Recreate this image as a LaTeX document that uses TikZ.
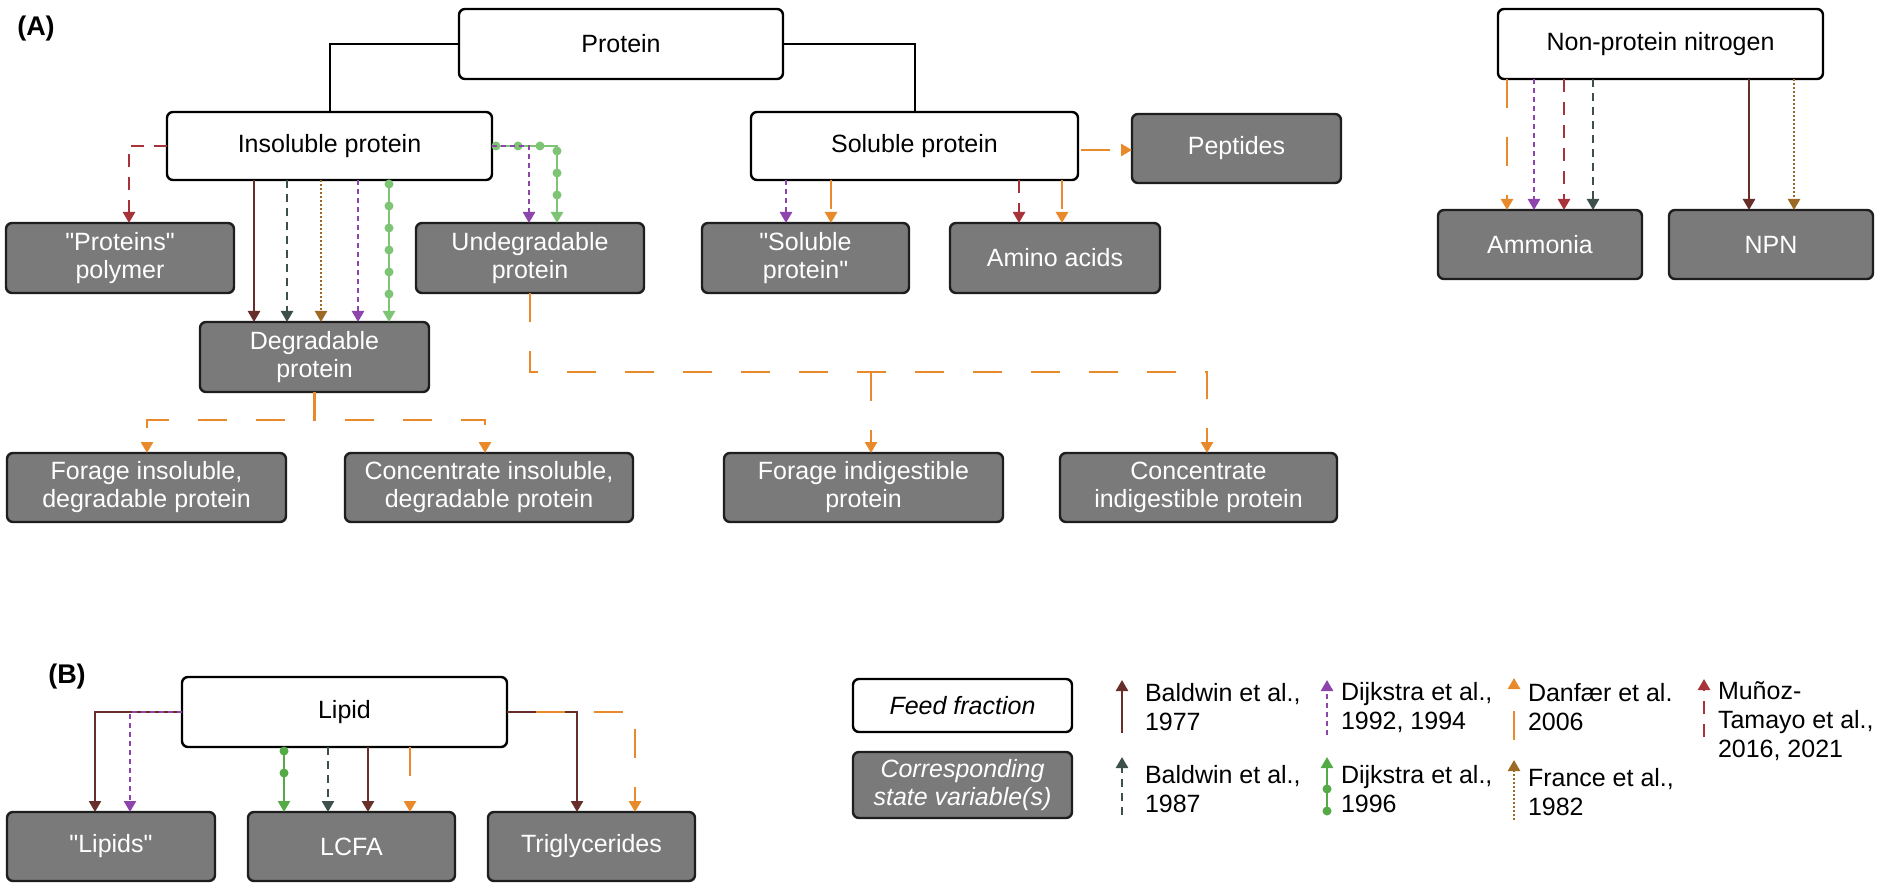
\documentclass[tikz,border=0pt]{standalone}
\usepackage{fontspec}
\setmainfont{Liberation Sans}
\usetikzlibrary{arrows.meta,decorations.markings}
\newcommand\sqt{\XeTeXglyph\XeTeXcharglyph"22\relax}
\definecolor{cBrown}{RGB}{104,46,42}
\definecolor{cSlate}{RGB}{62,80,76}
\definecolor{cPurple}{RGB}{142,68,173}
\definecolor{cGreenA}{RGB}{125,197,116}
\definecolor{cGreenB}{RGB}{84,170,68}
\definecolor{cOrange}{RGB}{232,137,43}
\definecolor{cRed}{RGB}{168,50,58}
\definecolor{cFrance}{RGB}{156,106,37}
\definecolor{cBox}{RGB}{122,122,122}
\definecolor{cBoxLine}{RGB}{30,30,30}
\begin{document}
\begin{tikzpicture}[x=1pt,y=-1pt,
  every node/.style={inner sep=0pt,outer sep=0pt},
  txt/.style={font=\fontsize{25}{28}\selectfont},
  fbox/.style={draw=black,line width=2.4pt,rounded corners=6pt,fill=white,align=center,txt},
  sbox/.style={draw=cBoxLine,line width=2.4pt,rounded corners=6pt,fill=cBox,text=white,align=center,txt},
  legtext/.style={align=left,anchor=west,font=\fontsize{25}{29}\selectfont},
  plainln/.style={draw=black,line width=2pt},
  arr/.style={-{Triangle[width=12pt,length=11pt]}},
  bbrown/.style={draw=cBrown,line width=2.5pt},
  bslate/.style={draw=cSlate,line width=2.5pt,dash pattern=on 8pt off 6pt},
  dpurple/.style={draw=cPurple,line width=2.5pt,dash pattern=on 5pt off 4pt},
  dorange/.style={draw=cOrange,line width=2.6pt,dash pattern=on 29pt off 29pt},
  mred/.style={draw=cRed,line width=2.5pt,dash pattern=on 13pt off 10pt},
  fbrown/.style={draw=cFrance,line width=2.3pt,dash pattern=on 2pt off 2pt},
  dgreen/.style={draw=#1,line width=2.5pt,
    decoration={markings,mark=between positions 4pt and -26pt step 22pt with {\fill[#1] (0,0) circle (4.5pt);}},
    postaction={decorate}},
  dgreen/.default=cGreenA
]
\fill[white] (0,0) rectangle (1884,890);
\useasboundingbox (0,0) rectangle (1884,890);

% ---------- labels
\node[font=\bfseries\fontsize{27}{30}\selectfont] (labA) at (36,29) {(A)};
\node[font=\bfseries\fontsize{27}{30}\selectfont] (labB) at (67,677) {(B)};

% ---------- section A boxes
\node[fbox,minimum width=324pt,minimum height=70pt] (protein) at (621,44) {Protein};
\node[fbox,minimum width=325pt,minimum height=68pt] (insol) at (329.5,146) {Insoluble protein};
\node[fbox,minimum width=327pt,minimum height=68pt] (sol) at (914.5,146) {Soluble protein};
\node[fbox,minimum width=325pt,minimum height=70pt] (npn) at (1660.5,44) {Non-protein nitrogen};
\node[sbox,minimum width=209pt,minimum height=69pt] (peptides) at (1236.5,148.5) {Peptides};
\node[sbox,minimum width=228pt,minimum height=70pt] (polymer) at (120,258) {\sqt Proteins\sqt\\polymer};
\node[sbox,minimum width=228pt,minimum height=70pt] (undeg) at (530,258) {Undegradable\\protein};
\node[sbox,minimum width=207pt,minimum height=70pt] (solstate) at (805.5,258) {\sqt Soluble\\protein\sqt};
\node[sbox,minimum width=210pt,minimum height=70pt] (amino) at (1055,258) {Amino acids};
\node[sbox,minimum width=204pt,minimum height=69pt] (ammonia) at (1540,244.5) {Ammonia};
\node[sbox,minimum width=204pt,minimum height=69pt] (npnbox) at (1771,244.5) {NPN};
\node[sbox,minimum width=229pt,minimum height=70pt] (degr) at (314.5,357) {Degradable\\protein};
\node[sbox,minimum width=279pt,minimum height=69pt] (forins) at (146.5,487.5) {Forage insoluble,\\degradable protein};
\node[sbox,minimum width=288pt,minimum height=69pt] (conins) at (489,487.5) {Concentrate insoluble,\\degradable protein};
\node[sbox,minimum width=279pt,minimum height=69pt] (forind) at (863.5,487.5) {Forage indigestible\\protein};
\node[sbox,minimum width=277pt,minimum height=69pt] (conind) at (1198.5,487.5) {Concentrate\\indigestible protein};

% ---------- section A connectors
\draw[plainln] (protein.west) -| (insol.north);
\draw[plainln] (protein.east) -| (sol.north);

\draw[mred,arr] (insol.west) -| (129,0 |- polymer.north);

\draw[bbrown,arr] (insol.south -| 254,0) -- (degr.north -| 254,0);
\draw[bslate,arr] (insol.south -| 287,0) -- (degr.north -| 287,0);
\draw[fbrown,arr] (insol.south -| 321,0) -- (degr.north -| 321,0);
\draw[dpurple,arr] (insol.south -| 358,0) -- (degr.north -| 358,0);
\draw[dgreen,arr] (insol.south -| 389,0) -- (degr.north -| 389,0);

\draw[dgreen,arr] (insol.east) -| (557,0 |- undeg.north);
\draw[dpurple,arr] (insol.east) -| (529,0 |- undeg.north);

\draw[dpurple,arr] (sol.south -| 786,0) -- (solstate.north -| 786,0);
\draw[dorange,arr] (sol.south -| 831,0) -- (solstate.north -| 831,0);
\draw[mred,arr] (sol.south -| 1019,0) -- (amino.north -| 1019,0);
\draw[dorange,arr] (sol.south -| 1062,0) -- (amino.north -| 1062,0);
\draw[dorange,arr,dash phase=-3pt] (sol.east |- 0,150) -- (peptides.west |- 0,150);

\coordinate (ucorner) at (1207,372);
\coordinate (ubranch) at (871,372);
\draw[dorange,arr] (undeg.south) |- (ucorner) -- (ucorner |- conind.north);
\draw[dorange,arr] (ubranch) -- (ubranch |- forind.north);

\coordinate (dleft) at (147,420);
\coordinate (dright) at (485,420);
\draw[dorange,arr] (degr.south) |- (dleft) -- (dleft |- forins.north);
\draw[dorange,arr] (degr.south) |- (dright) -- (dright |- conins.north);

\draw[dorange,arr] (npn.south -| 1507,0) -- (ammonia.north -| 1507,0);
\draw[dpurple,arr] (npn.south -| 1534,0) -- (ammonia.north -| 1534,0);
\draw[mred,arr] (npn.south -| 1564,0) -- (ammonia.north -| 1564,0);
\draw[bslate,arr] (npn.south -| 1593,0) -- (ammonia.north -| 1593,0);
\draw[bbrown,arr] (npn.south -| 1749,0) -- (npnbox.north -| 1749,0);
\draw[fbrown,arr] (npn.south -| 1794,0) -- (npnbox.north -| 1794,0);

% ---------- section B
\node[fbox,minimum width=325pt,minimum height=70pt] (lipid) at (344.5,712) {Lipid};
\node[sbox,minimum width=208pt,minimum height=69pt] (lipids) at (111,846.5) {\sqt Lipids\sqt};
\node[sbox,minimum width=207pt,minimum height=69pt] (lcfa) at (351.5,846.5) {LCFA};
\node[sbox,minimum width=207pt,minimum height=69pt] (trig) at (591.5,846.5) {Triglycerides};

\draw[bbrown,arr] (lipid.west) -| (95,0 |- lipids.north);
\draw[dpurple,arr] (lipid.west) -| (130,0 |- lipids.north);
\draw[dgreen=cGreenB,arr] (lipid.south -| 284,0) -- (lcfa.north -| 284,0);
\draw[bslate,arr] (lipid.south -| 328,0) -- (lcfa.north -| 328,0);
\draw[bbrown,arr] (lipid.south -| 368,0) -- (lcfa.north -| 368,0);
\draw[dorange,arr] (lipid.south -| 410,0) -- (lcfa.north -| 410,0);
\draw[bbrown,arr] (lipid.east) -| (577,0 |- trig.north);
\draw[dorange,arr,dash phase=29pt] (lipid.east) -| (635,0 |- trig.north);

% ---------- legend
\node[fbox,minimum width=219pt,minimum height=53pt,font=\fontsize{25}{28}\selectfont\itshape] (legfeed) at (962.5,705.5) {Feed fraction};
\node[sbox,minimum width=219pt,minimum height=66pt,font=\fontsize{25}{28}\selectfont\itshape] (legstate) at (962.5,785) {Corresponding\\state variable(s)};

\coordinate (la1) at (1122,733); \coordinate (la2) at (1122,680);
\coordinate (lb1) at (1122,815); \coordinate (lb2) at (1122,757);
\coordinate (lc1) at (1327,735); \coordinate (lc2) at (1327,680);
\coordinate (ld1) at (1327,815); \coordinate (ld2) at (1327,757);
\coordinate (le1) at (1514,740); \coordinate (le2) at (1514,678);
\coordinate (lf1) at (1514,820); \coordinate (lf2) at (1514,760);
\coordinate (lg1) at (1704,737); \coordinate (lg2) at (1704,679);

\draw[bbrown,arr] (la1) -- (la2);
\draw[bslate,arr] (lb1) -- (lb2);
\draw[dpurple,arr] (lc1) -- (lc2);
\draw[dgreen=cGreenB,arr] (ld1) -- (ld2);
\draw[dorange,arr] (le1) -- (le2);
\draw[fbrown,arr] (lf1) -- (lf2);
\draw[mred,arr] (lg1) -- (lg2);

\node[legtext] (ta) at (1145,707.5) {Baldwin et al.,\\1977};
\node[legtext] (tb) at (1145,789) {Baldwin et al.,\\1987};
\node[legtext] (tc) at (1341,707.5) {Dijkstra et al.,\\1992, 1994};
\node[legtext] (td) at (1341,789) {Dijkstra et al.,\\1996};
\node[legtext] (te) at (1528,707.5) {Danfær et al.\\2006};
\node[legtext] (tf) at (1528,792) {France et al.,\\1982};
\node[legtext] (tg) at (1718,721.5) {Muñoz-\\Tamayo et al.,\\2016, 2021};
\end{tikzpicture}
\end{document}
